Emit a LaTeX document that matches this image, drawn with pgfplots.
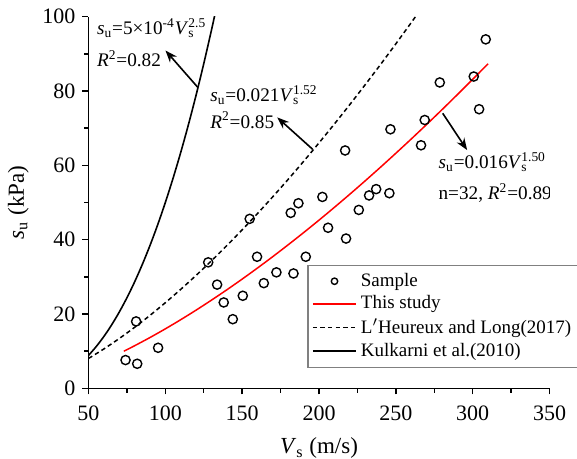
\documentclass[border=0pt]{standalone}
\usepackage{fontspec}
\setmainfont{Liberation Serif}
\usepackage{pgfplots}
\pgfplotsset{compat=1.18}
\usetikzlibrary{arrows.meta}

% sample points (V_s in m/s, s_u in kPa)
\pgfplotstableread{
vs    su
74.1  7.6
81.7  6.6
81.0  18.0
95.3  10.9
127.9 33.9
133.7 27.9
138.0 23.1
143.9 18.6
150.4 24.9
159.7 35.4
164.1 28.3
172.3 31.2
183.4 30.9
191.4 35.4
217.6 40.3
154.9 45.6
181.6 47.2
186.6 49.8
202.2 51.5
205.9 43.2
225.9 48.0
232.6 51.9
237.2 53.6
245.8 52.5
217.0 64.0
246.5 69.7
266.4 65.4
268.8 72.2
278.6 82.3
304.2 75.1
300.7 83.9
308.5 93.9
}\samples

\newcommand{\su}{\textit{s}\textsubscript{u}}
\newcommand{\Vs}[1]{\textit{V}\rlap{\textsubscript{s}}\textsuperscript{#1}}

\pgfplotsset{
  lineleg/.style={legend image code/.code={\draw[##1] (0cm,0cm) -- (0.76cm,0cm);}},
  markleg/.style={legend image code/.code={\draw[##1, mark size=1.6pt] plot coordinates {(0.38cm,0cm)};}},
}

\begin{document}
\begin{tikzpicture}
\useasboundingbox (-44.25pt,-35.35pt) rectangle (244.25pt,194.15pt);
\begin{axis}[
  scale only axis,
  width=230.5pt, height=185.8pt,
  xmin=50, xmax=350, ymin=0, ymax=100,
  axis x line*=bottom, axis y line*=left,
  axis line style={line width=0.75pt},
  xtick={50,100,...,350}, ytick={0,20,...,100},
  minor tick num=1,
  tick align=outside,
  major tick length=3pt, minor tick length=2.2pt,
  tick style={line width=0.7pt, black},
  tick label style={font=\fontsize{11}{12}\selectfont},
  xticklabel style={yshift=-2.5pt},
  /pgf/number format/assume math mode=true,
  label style={font=\fontsize{11.5}{12}\selectfont},
  xlabel={\textit{V}\textsubscript{s} (m/s)},
  xlabel style={yshift=-1.5pt},
  ylabel={\su\ (kPa)},
  legend style={at={(0.475,0.333)}, anchor=north west,
    draw=gray, line width=0.6pt, font=\fontsize{9.5}{11}\selectfont,
    row sep=-0.8pt, inner sep=2pt},
  legend cell align=left,
]
\addplot[only marks, mark=o, mark size=2.3pt, mark options={line width=0.7pt, black}, markleg]
  table[x=vs, y=su] {\samples};
\addlegendentry{Sample}

\addplot[red, line width=0.75pt, smooth, lineleg]
  coordinates {(73,9.98) (80,11.45) (90,13.66) (100,16.0) (110,18.46) (120,21.03)
  (130,23.72) (140,26.50) (150,29.39) (160,32.38) (170,35.46) (180,38.64)
  (190,41.90) (200,45.25) (210,48.69) (220,52.21) (230,55.81) (240,59.49)
  (250,63.25) (260,67.08) (270,70.99) (280,74.96) (290,79.02) (300,83.14) (310,87.33)};
\addlegendentry{This study}

\addplot[black, line width=0.75pt, dash pattern=on 2.2pt off 1.6pt, smooth, lineleg]
  coordinates {(50,8.03) (60,10.59) (70,13.39) (80,16.40) (90,19.62) (100,23.03)
  (110,26.62) (120,30.38) (130,34.31) (140,38.40) (150,42.65) (160,47.04)
  (170,51.58) (180,56.26) (190,61.08) (200,66.04) (210,71.12) (220,76.33)
  (230,81.67) (240,87.12) (250,92.70) (260,98.39) (265,101.29)};
\addlegendentry{L\/$'$Heureux and Long(2017)}

\addplot[black, line width=0.8pt, smooth, lineleg]
  coordinates {(50,8.84) (55,11.22) (60,13.94) (65,17.03) (70,20.50) (75,24.36)
  (80,28.62) (85,33.31) (90,38.42) (95,43.98) (100,50.0) (105,56.49) (110,63.45)
  (115,70.91) (120,78.87) (125,87.35) (130,96.35) (133,102.0)};
\addlegendentry{Kulkarni et al.(2010)}

% annotations
\begin{scope}[font=\fontsize{9.6}{11}\selectfont, inner sep=0pt]
\node[anchor=base west] at (axis cs:55.3,95.1) {\su=5×10\textsuperscript{-4}\Vs{2.5}};
\node[anchor=base west] at (axis cs:55.3,86.5) {\textit{R}\textsuperscript{2}=0.82};
\node[anchor=base west] at (axis cs:129.0,77.1) {\su=0.021\Vs{1.52}};
\node[anchor=base west] at (axis cs:129.0,70.0) {\textit{R}\textsuperscript{2}=0.85};
\node[anchor=base west] at (axis cs:277.6,59.2) {\su=0.016\Vs{1.50}};
\node[anchor=base west] at (axis cs:277.6,50.7) {n=32, \textit{R}\textsuperscript{2}=0.89};
\end{scope}
\draw[line width=0.8pt, -{Stealth[length=6pt, width=4.5pt]}] (axis cs:121.1,81.0) -- (axis cs:100.1,90.9);
\draw[line width=0.8pt, -{Stealth[length=6pt, width=4.5pt]}] (axis cs:195.9,64.3) -- (axis cs:172.8,72.9);
\draw[line width=0.8pt, -{Stealth[length=6pt, width=4.5pt]}] (axis cs:280.5,74.0) -- (axis cs:296.4,64.1);
\end{axis}
\end{tikzpicture}
\end{document}
